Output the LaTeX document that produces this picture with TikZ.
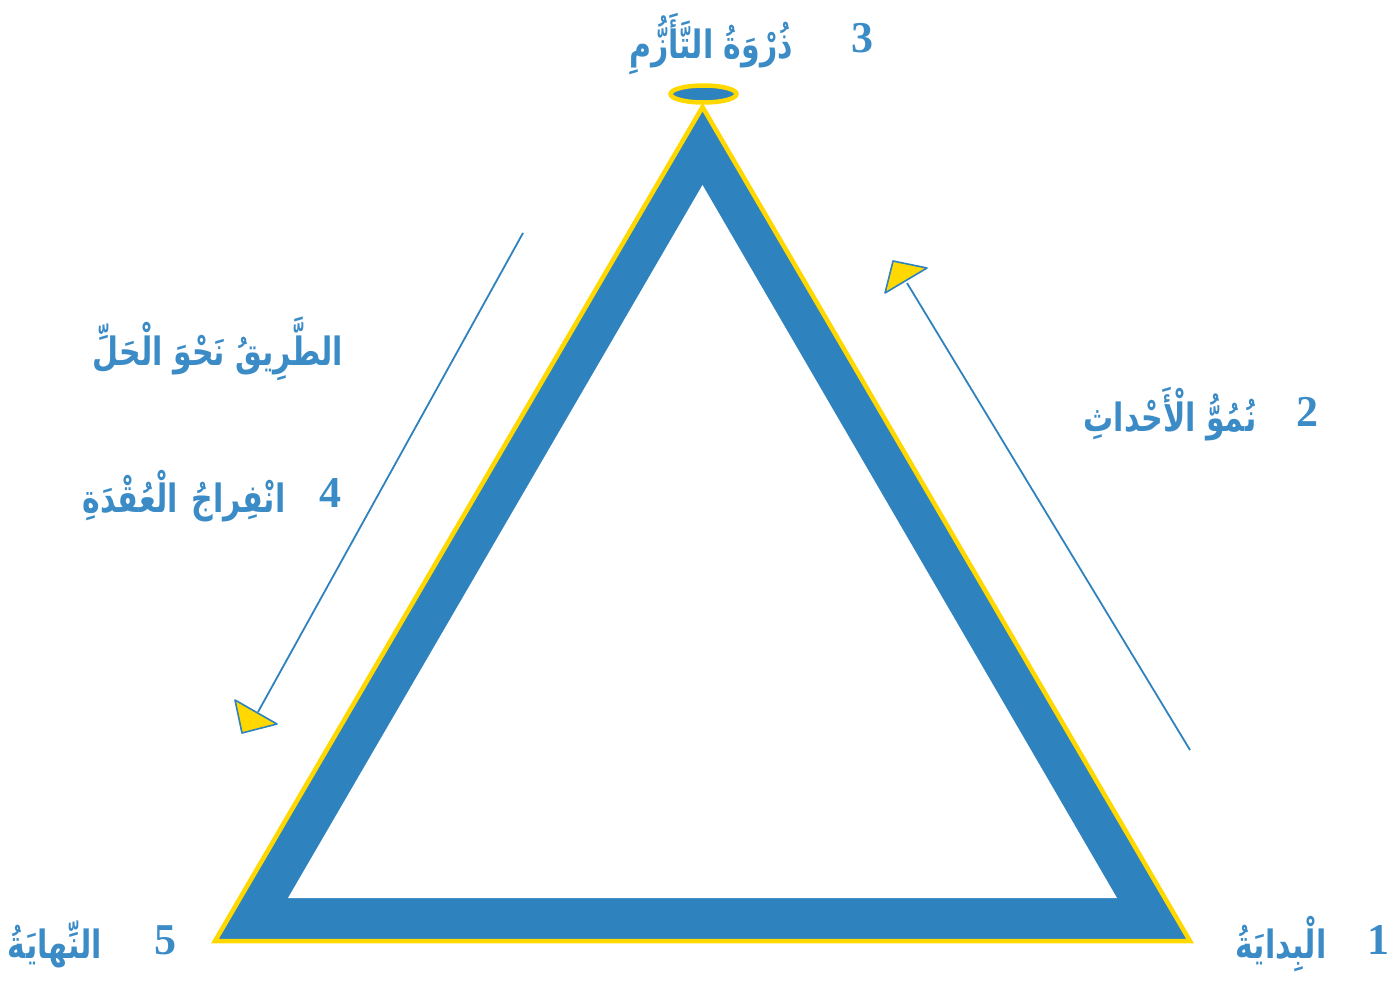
\documentclass[tikz,border=0pt]{standalone}
\usepackage{fontspec}
\usetikzlibrary{shapes.geometric}
\setmainfont{Liberation Serif}
\newfontfamily\arabicfont[Script=Arabic]{DejaVu Sans}
\TeXXeTstate=1
\definecolor{triblue}{HTML}{2E82BE}
\definecolor{txtblue}{HTML}{3A8BC6}
\definecolor{triyellow}{HTML}{FFD800}
\newcommand{\artxt}[1]{\scalebox{1}[1.3]{\beginR #1\endR}}
\begin{document}
\begin{tikzpicture}[x=1pt,y=-1pt,
  artext/.style={text=txtblue,font=\arabicfont\bfseries\fontsize{30}{34}\selectfont,inner sep=0pt},
  numtext/.style={text=txtblue,font=\bfseries\fontsize{44}{48}\selectfont,inner sep=0pt},
  guide/.style={draw=triblue,line width=1.8pt},
  headtri/.style={fill=triyellow,draw=triblue,line width=1.6pt,line join=round}]
\useasboundingbox (0,0) rectangle (1397,980);
% triangle
\coordinate (oL) at (215,941);
\coordinate (oR) at (1190,941);
\coordinate (oT) at (702.5,107);
\coordinate (iL) at (288,898);
\coordinate (iR) at (1117,898);
\coordinate (iT) at (702.5,185);
\fill[triblue,draw=triyellow,line width=4.5pt,line join=miter] (oL) -- (oR) -- (oT) -- cycle;
\fill[white] (iL) -- (iR) -- (iT) -- cycle;
% top ellipse
\node[ellipse,draw=triyellow,fill=triblue,line width=4.5pt,minimum width=66pt,minimum height=17pt,inner sep=0pt] (cap) at (703.5,94) {};
% right arrow
\coordinate (rs) at (1190,750);
\coordinate (re) at (907,283);
\draw[guide] (rs) -- (re);
\coordinate (ra) at (893,261);
\coordinate (rb) at (927,268);
\coordinate (rc) at (885,293);
\draw[headtri] (ra) -- (rb) -- (rc) -- cycle;
% left arrow
\coordinate (ls) at (523,233);
\coordinate (le) at (258,712);
\draw[guide] (ls) -- (le);
\coordinate (la) at (235,700);
\coordinate (lb) at (277,724);
\coordinate (lc) at (242,733);
\draw[headtri] (la) -- (lb) -- (lc) -- cycle;
% labels
\node[numtext] (n3) at (862,38) {3};
\node[artext] (t3) at (711,44) {\artxt{ذُرْوَةُ التَّأَزُّمِ}};
\node[numtext] (n2) at (1307,412) {2};
\node[artext] (t2) at (1170,414) {\artxt{نُمُوُّ الْأَحْداثِ}};
\node[artext] (t4a) at (218,349) {\artxt{الطَّرِيقُ نَحْوَ الْحَلِّ}};
\node[numtext] (n4) at (330,493) {4};
\node[artext] (t4) at (184,496) {\artxt{انْفِراجُ\hspace{14pt}الْعُقْدَةِ}};
\node[numtext] (n5) at (165,940) {5};
\node[artext] (t5) at (55,944) {\artxt{النِّهايَةُ}};
\node[numtext] (n1) at (1378,940) {1};
\node[artext] (t1) at (1281,944) {\artxt{الْبِدايَةُ}};
\end{tikzpicture}
\end{document}
